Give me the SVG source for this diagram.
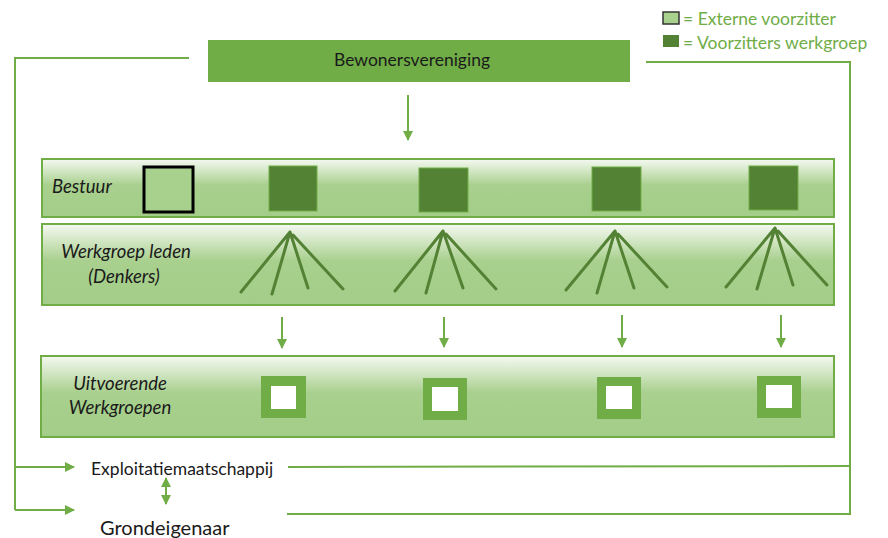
<svg xmlns="http://www.w3.org/2000/svg" width="888" height="538" viewBox="0 0 888 538">
<defs>
<linearGradient id="band" x1="0" y1="0" x2="0" y2="1">
<stop offset="0" stop-color="#f5f9f2"/>
<stop offset="0.45" stop-color="#a9d08e"/>
<stop offset="1" stop-color="#a3cd88"/>
</linearGradient>
<marker id="ah" markerWidth="10" markerHeight="10" refX="9" refY="5" orient="auto" markerUnits="userSpaceOnUse">
<path d="M0,0 L10,5 L0,10 Z" fill="#70ad47"/>
</marker>
<marker id="ahs" markerWidth="10" markerHeight="10" refX="1" refY="5" orient="auto" markerUnits="userSpaceOnUse">
<path d="M10,0 L0,5 L10,10 Z" fill="#70ad47"/>
</marker>
</defs>
<style>
.band{fill:url(#band);stroke:#70ad47;stroke-width:2}
.lbl{font-family:Lato,"Liberation Sans",sans-serif;font-size:18.5px;font-style:italic;fill:#1a1a1a}
.txt{font-family:Lato,"Liberation Sans",sans-serif;fill:#1a1a1a}
.leg{font-family:Lato,"Liberation Sans",sans-serif;font-size:17.5px;fill:#70ad47}
.dk{fill:#548235;stroke:#70ad47;stroke-width:1}
.fan{stroke:#548235;stroke-width:3;fill:none;stroke-linecap:round}
.fr{fill:#70ad47}
.wh{fill:#ffffff}
.con{stroke:#70ad47;stroke-width:2;fill:none}
</style>

<g id="legend">
<rect x="663" y="12" width="16" height="12" fill="#a9d18e" stroke="#333" stroke-width="1.5"/>
<text class="leg" x="683" y="25">= Externe voorzitter</text>
<rect x="663" y="35" width="16" height="12" fill="#548235"/>
<text class="leg" x="683" y="49">= Voorzitters werkgroep</text>
</g>

<g id="bewonersvereniging">
<rect x="208" y="40" width="422" height="42" fill="#70ad47"/>
<text class="txt" x="412" y="66" font-size="17.5" text-anchor="middle">Bewonersvereniging</text>
</g>

<g id="bestuur">
<rect class="band" x="42" y="159" width="792" height="58"/>
<text class="lbl" x="52" y="193">Bestuur</text>
<rect x="144" y="167" width="49" height="45" fill="#a9d18e" stroke="#000" stroke-width="3"/>
<rect class="dk" x="269" y="166" width="48" height="45"/>
<rect class="dk" x="419" y="168" width="49" height="44"/>
<rect class="dk" x="592" y="167" width="49" height="44"/>
<rect class="dk" x="749" y="166" width="49" height="44"/>
</g>

<g id="werkgroep-leden">
<rect class="band" x="42" y="224" width="792" height="81"/>
<text class="lbl" x="126" y="258" text-anchor="middle">Werkgroep leden</text>
<text class="lbl" x="124" y="283" text-anchor="middle">(Denkers)</text>
<path class="fan" d="M290,232 L241,292 M290,232 L272,294 M290,232 L308,288 M293,235 L343,289"/>
<path class="fan" d="M443,231 L395,291 M443,231 L426,293 M443,231 L463,288 M446,234 L496,289"/>
<path class="fan" d="M615,231 L566,290 M615,231 L597,293 M615,231 L634,288 M618,234 L667,287"/>
<path class="fan" d="M775,228 L726,287 M775,228 L757,289 M775,228 L793,285 M778,231 L827,285"/>
</g>

<g id="uitvoerende-werkgroepen">
<rect class="band" x="41" y="356" width="793" height="81"/>
<text class="lbl" x="120" y="390" text-anchor="middle">Uitvoerende</text>
<text class="lbl" x="120" y="414" text-anchor="middle">Werkgroepen</text>
<rect class="fr" x="261" y="376" width="45" height="42"/><rect class="wh" x="271" y="386" width="25" height="23"/>
<rect class="fr" x="423" y="378" width="44" height="42"/><rect class="wh" x="432" y="387" width="26" height="24"/>
<rect class="fr" x="597" y="377" width="44" height="42"/><rect class="wh" x="606" y="386" width="26" height="23"/>
<rect class="fr" x="757" y="376" width="44" height="42"/><rect class="wh" x="766" y="385" width="26" height="23"/>
</g>

<g id="exploitatiemaatschappij">
<text class="txt" x="91" y="475" font-size="17.5">Exploitatiemaatschappij</text>
</g>
<g id="grondeigenaar">
<text class="txt" x="100" y="535" font-size="20">Grondeigenaar</text>
</g>

<g id="connectors">
<line class="con" x1="408" y1="95" x2="408" y2="140" marker-end="url(#ah)"/>
<line class="con" x1="282" y1="317" x2="282" y2="348" marker-end="url(#ah)"/>
<line class="con" x1="444" y1="317" x2="444" y2="347" marker-end="url(#ah)"/>
<line class="con" x1="622" y1="315" x2="622" y2="347" marker-end="url(#ah)"/>
<line class="con" x1="781" y1="315" x2="781" y2="347" marker-end="url(#ah)"/>
<path class="con" d="M189,58 L15,58 L15,510"/>
<line class="con" x1="15" y1="467" x2="74" y2="467" marker-end="url(#ah)"/>
<line class="con" x1="15" y1="510" x2="74" y2="510" marker-end="url(#ah)"/>
<path class="con" d="M646,62 L850,62 L850,514 L287,514"/>
<line class="con" x1="288" y1="467" x2="850" y2="466"/>
<line class="con" x1="166" y1="478" x2="166" y2="504" marker-start="url(#ahs)" marker-end="url(#ah)"/>
</g>
</svg>
